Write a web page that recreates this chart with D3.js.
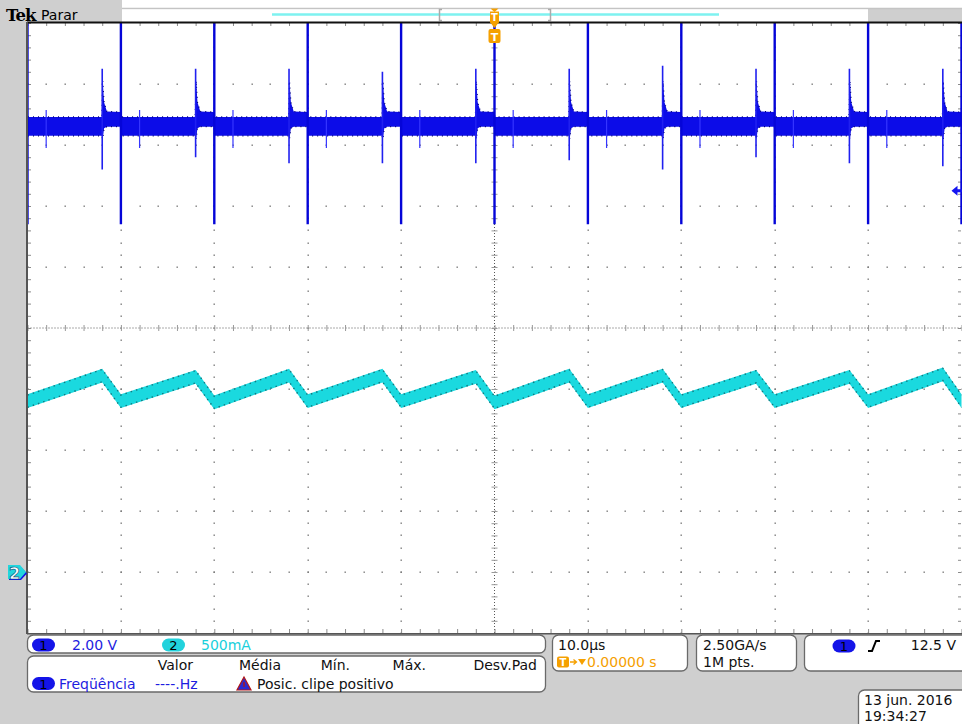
<!DOCTYPE html>
<html><head><meta charset="utf-8">
<script src="https://cdn.jsdelivr.net/npm/d3@7"></script>
<style>
body{margin:0;background:#cfcfcf;overflow:hidden}
svg{display:block}
</style>
</head><body>
<svg id="c" width="962" height="724" font-family="'DejaVu Sans',sans-serif"></svg>
<script>
// ---------------- DATA ----------------
// Time base: 10.0 µs/div, 10 divisions, trigger at 0
const timeDomain = [-50, 50];               // µs
// Channel 1: 2.00 V/div, ground marker at -4 div
const ch1Scale = 2.0, ch1GroundDiv = -4;
// Channel 2: 500 mA/div, ground marker at -4 div
const ch2Scale = 0.5, ch2GroundDiv = -4;
const triggerLevel = 12.5;                  // V (ch1, rising)

// Ch1 large switching spikes (clipped on top)
const bigSpikeTimes = [-50, -40, -30, -20, -10, 0, 10, 20, 30, 40, 50];
const bigSpikeHigh  = [18.5, 18.5, 18.5, 18.5, 18.5, 18.5, 18.5, 18.5, 18.5, 18.5, 18.5];
const bigSpikeLow   = [11.4, 11.4, 11.4, 11.4, 11.4, 11.4, 11.4, 11.4, 11.4, 11.4, 11.4];
// Ch1 smaller spikes 2 µs before each big spike
const smallSpikeTimes = [-42, -32, -22, -12, -2, 8, 18, 28, 38, 48];
const smallSpikeHigh  = [16.5, 16.5, 16.5, 16.4, 16.5, 16.5, 16.6, 16.5, 16.5, 16.5];
const smallSpikeLow   = [13.2, 13.6, 13.4, 13.4, 13.4, 13.5, 13.2, 13.6, 13.4, 13.3];
// Ch1 minor ringing spikes ~2 µs after each big spike
const minorSpikeTimes = [-48, -38, -28, -18, -8, 2, 12, 22, 32, 42];
const minorSpikeHigh  = [15.15, 15.15, 15.15, 15.15, 15.15, 15.15, 15.15, 15.15, 15.15, 15.15];
const minorSpikeLow   = [13.9, 13.9, 13.9, 13.9, 13.9, 13.9, 13.9, 13.9, 13.9, 13.9];
// Ch1 noise envelope over one cycle (µs after each big spike, volts)
const envTau    = [0.05, 7.95, 8.05, 8.2, 8.5, 9.95];
const envTop    = [14.92, 14.92, 16.1, 15.4, 15.1, 15.08];
const envBottom = [14.3, 14.3, 14.2, 14.55, 14.6, 14.6];

// Ch2 triangular current (A)
const ch2TroughTimes  = [-50, -40, -30, -20, -10, 0, 10, 20, 30, 40, 50];
const ch2TroughValues = [1.40, 1.40, 1.39, 1.40, 1.40, 1.39, 1.40, 1.40, 1.40, 1.40, 1.40];
const ch2PeakTimes    = [-42, -32, -22, -12, -2, 8, 18, 28, 38, 48];
const ch2PeakValues   = [1.61, 1.60, 1.61, 1.61, 1.60, 1.61, 1.61, 1.60, 1.60, 1.62];
const ch2NoiseHalf = 0.056;

// Readouts
const readout = {
  ch1: "2.00 V", ch2: "500mA",
  measHeaders: ["Valor", "Média", "Mín.", "Máx.", "Desv.Pad"],
  measName: "Freqüência", measValue: "----.Hz", clipMsg: "Posic. clipe positivo",
  timeDiv: "10.0µs", trigPos: "0.00000 s",
  sampleRate: "2.50GA/s", recLen: "1M pts.",
  trigLevel: "12.5 V", date: "13 jun. 2016", time: "19:34:27"
};

// ---------------- DRAWING ----------------
const svg = d3.select("#c");
const X0 = 27.5, X1 = 961.5, Y0 = 23, Y1 = 633;
const x = d3.scaleLinear().domain(timeDomain).range([X0, X1]);
const yDiv = d3.scaleLinear().domain([-5, 5]).range([Y1, Y0]);
const y1 = d3.scaleLinear().domain([(-5 - ch1GroundDiv) * ch1Scale, (5 - ch1GroundDiv) * ch1Scale]).range([Y1, Y0]);
const y2 = d3.scaleLinear().domain([(-5 - ch2GroundDiv) * ch2Scale, (5 - ch2GroundDiv) * ch2Scale]).range([Y1, Y0]);

// background areas
svg.append("rect").attr("width", 962).attr("height", 724).attr("fill", "#cfcfcf");
svg.append("rect").attr("x", 122).attr("y", 0).attr("width", 840).attr("height", 8).attr("fill", "#ffffff");
svg.append("line").attr("x1", 122).attr("x2", 962).attr("y1", 8.5).attr("y2", 8.5).attr("stroke", "#c4c4c4").attr("stroke-width", 1.5);
svg.append("rect").attr("x", 122).attr("y", 9.2).attr("width", 746).attr("height", 13).attr("fill", "#ffffff");
svg.append("rect").attr("x", 27).attr("y", 22).attr("width", 935).attr("height", 612).attr("fill", "#ffffff");

// header
svg.append("text").attr("x", 6).attr("y", 20.5).style("font-family", "'DejaVu Serif','Liberation Serif',serif").attr("font-weight", "bold")
  .attr("font-size", 16.5).attr("letter-spacing", -1).attr("fill", "#000").text("Tek");
svg.append("text").attr("x", 41).attr("y", 19.5).attr("font-size", 14).attr("fill", "#000").text("Parar");
// record view bar
svg.append("line").attr("x1", 272).attr("x2", 719).attr("y1", 14.5).attr("y2", 14.5).attr("stroke", "#7ef2f0").attr("stroke-width", 2.5);
svg.append("path").attr("d", "M442,9.5 H439.5 V20.5 H442").attr("fill", "none").attr("stroke", "#aaa").attr("stroke-width", 1.5);
svg.append("path").attr("d", "M548,9.5 H550.5 V20.5 H548").attr("fill", "none").attr("stroke", "#aaa").attr("stroke-width", 1.5);

const gPlot = svg.append("g");
svg.append("defs").append("clipPath").attr("id", "clip").append("rect")
  .attr("x", 27.5).attr("y", Y0).attr("width", 934.5).attr("height", Y1 - Y0);

// grid dots: along major rows at minor x, along major columns at minor y
const minorT = d3.range(-50, 50.01, 2);
const minorDiv = d3.range(-5, 5.001, 0.2);
const majorRows = d3.range(-4, 4.001, 1).filter(d => d !== 0);
const majorCols = d3.range(-40, 40.01, 10).filter(d => d !== 0);
const dots = [];
majorRows.forEach(r => minorT.forEach(t => dots.push([x(t), yDiv(r)])));
majorCols.forEach(c => minorDiv.forEach(d => dots.push([x(c), yDiv(d)])));
gPlot.append("g").selectAll("rect").data(dots).join("rect")
  .attr("x", d => Math.round(d[0]) - 0.5).attr("y", d => Math.round(d[1]) - 0.5)
  .attr("width", 1.4).attr("height", 1.4).attr("fill", "#7a7a7a");

// center crosshair (dotted) with ticks
gPlot.append("line").attr("x1", X0).attr("x2", X1).attr("y1", yDiv(0)).attr("y2", yDiv(0))
  .attr("stroke", "#555").attr("stroke-width", 1).attr("stroke-dasharray", "1,2");
gPlot.append("line").attr("x1", x(0)).attr("x2", x(0)).attr("y1", Y0).attr("y2", Y1)
  .attr("stroke", "#555").attr("stroke-width", 1).attr("stroke-dasharray", "1,2");
const axCH = d3.axisBottom(x).tickValues(minorT).tickSizeInner(6).tickSizeOuter(0).tickFormat("");
const gCH = gPlot.append("g").attr("transform", `translate(0,${yDiv(0) - 3})`).call(axCH);
const axCV = d3.axisRight(yDiv).tickValues(minorDiv).tickSizeInner(6).tickSizeOuter(0).tickFormat("");
const gCV = gPlot.append("g").attr("transform", `translate(${x(0) - 3},0)`).call(axCV);
[gCH, gCV].forEach(g => { g.select(".domain").remove(); g.selectAll("line").attr("stroke", "#999"); });

// edge ticks
function edge(axis, tx, ty) {
  const g = gPlot.append("g").attr("transform", `translate(${tx},${ty})`).call(axis);
  g.select(".domain").remove();
  g.selectAll("line").attr("stroke", "#8a8a8a");
}
edge(d3.axisBottom(x).tickValues(minorT).tickSize(3).tickFormat(""), 0, Y0);
edge(d3.axisTop(x).tickValues(minorT).tickSize(4).tickFormat(""), 0, Y1);
edge(d3.axisRight(yDiv).tickValues(minorDiv).tickSize(3).tickFormat(""), 28, 0);
edge(d3.axisLeft(yDiv).tickValues(minorDiv).tickSize(3).tickFormat(""), 961, 0);

// traces
const gTr = gPlot.append("g").attr("clip-path", "url(#clip)");

// ch2 band
const ch2Pts = [];
ch2TroughTimes.forEach((t, i) => ch2Pts.push({ t, v: ch2TroughValues[i] }));
ch2PeakTimes.forEach((t, i) => ch2Pts.push({ t, v: ch2PeakValues[i] }));
ch2Pts.sort((a, b) => a.t - b.t);
gTr.append("path").datum(ch2Pts)
  .attr("d", d3.area().x(d => x(d.t)).y0(d => y2(d.v - ch2NoiseHalf)).y1(d => y2(d.v + ch2NoiseHalf)))
  .attr("fill", "#1ad9df");
[1, -1].forEach(s => {
  gTr.append("path").datum(ch2Pts)
    .attr("d", d3.line().x(d => x(d.t)).y(d => y2(d.v + s * (ch2NoiseHalf - 0.006))))
    .attr("fill", "none").attr("stroke", "#127a80").attr("stroke-width", 1.4).attr("stroke-dasharray", "1.5,4");
});

// ch1 band
const ch1Pts = [];
bigSpikeTimes.forEach(T => envTau.forEach((tau, i) => ch1Pts.push({ t: T + tau, hi: envTop[i], lo: envBottom[i] })));
gTr.append("path").datum(ch1Pts)
  .attr("d", d3.area().x(d => x(d.t)).y0(d => y1(d.lo)).y1(d => y1(d.hi)))
  .attr("fill", "#0c0ce8");
["hi", "lo"].forEach(k => {
  gTr.append("path").datum(ch1Pts)
    .attr("d", d3.line().x(d => x(d.t)).y(d => y1(d[k])))
    .attr("fill", "none").attr("stroke", "#000070").attr("stroke-width", 1.2).attr("stroke-dasharray", "1,4");
});
function spikes(times, hi, lo, w, col) {
  gTr.append("g").selectAll("line").data(times).join("line")
    .attr("x1", d => x(d)).attr("x2", d => x(d))
    .attr("y1", (d, i) => y1(hi[i])).attr("y2", (d, i) => y1(lo[i]))
    .attr("stroke", col).attr("stroke-width", w);
}
spikes(minorSpikeTimes, minorSpikeHigh, minorSpikeLow, 1.2, "#3535ff");
spikes(smallSpikeTimes, smallSpikeHigh, smallSpikeLow, 1.6, "#2020f0");
spikes(bigSpikeTimes, bigSpikeHigh, bigSpikeLow, 2.4, "#0505d8");

// borders
svg.append("line").attr("x1", 27).attr("x2", 962).attr("y1", 22.5).attr("y2", 22.5).attr("stroke", "#111").attr("stroke-width", 2);
svg.append("line").attr("x1", 27).attr("x2", 27).attr("y1", 22).attr("y2", 634).attr("stroke", "#555").attr("stroke-width", 2);
svg.append("line").attr("x1", 27).attr("x2", 962).attr("y1", 633.7).attr("y2", 633.7).attr("stroke", "#555").attr("stroke-width", 1.4);

// trigger position markers (orange)
const tx = x(0), orange = "#f5a000";
svg.append("path").attr("d", `M${tx-4},8.5 L${tx+4},8.5 L${tx},12 Z`).attr("fill", orange);
svg.append("rect").attr("x", tx - 4.5).attr("y", 11.5).attr("width", 9).attr("height", 11).attr("fill", orange);
svg.append("path").attr("d", `M${tx-5},21.5 L${tx+5},21.5 L${tx},28 Z`).attr("fill", orange);
svg.append("text").attr("x", tx).attr("y", 21).attr("text-anchor", "middle").attr("font-size", 10).attr("font-weight", "bold").attr("fill", "#fff").text("T");
svg.append("rect").attr("x", tx - 6).attr("y", 29).attr("width", 12).attr("height", 14).attr("rx", 2).attr("fill", orange);
svg.append("text").attr("x", tx).attr("y", 40.5).attr("text-anchor", "middle").attr("font-size", 11).attr("font-weight", "bold").attr("fill", "#fff").text("T");

// trigger level arrow (right)
const ty = y1(triggerLevel);
svg.append("path").attr("d", `M951.5,${ty} L957.5,${ty-5} L957.5,${ty-1.5} L962,${ty-1.5} L962,${ty+1.5} L957.5,${ty+1.5} L957.5,${ty+5} Z`).attr("fill", "#1515f0");

// channel ground markers (left)
const gy1 = yDiv(ch1GroundDiv), gy2 = yDiv(ch2GroundDiv);
svg.append("path").attr("d", `M9,${gy1-5} L21,${gy1-5} L27,${gy1+1.5} L21,${gy1+8} L9,${gy1+8} Z`).attr("fill", "#1515e0");
svg.append("path").attr("d", `M8,${gy2-7} L20,${gy2-7} L26,${gy2} L20,${gy2+7} L8,${gy2+7} Z`).attr("fill", "#22d5dd");
svg.append("text").attr("x", 14.5).attr("y", gy2 + 6.5).attr("text-anchor", "middle").attr("font-size", 16).attr("font-weight", "bold")
  .attr("fill", "#fff").attr("stroke", "#0a5a80").attr("stroke-width", 0.7).text("2");

// ---------------- bottom readouts ----------------
function panel(px, py, w, h) {
  svg.append("rect").attr("x", px).attr("y", py).attr("width", w).attr("height", h).attr("rx", 6)
    .attr("fill", "#fff").attr("stroke", "#6a6a6a").attr("stroke-width", 1.3);
}
function txt(tx_, ty_, s, col, anchor, size) {
  return svg.append("text").attr("x", tx_).attr("y", ty_).attr("font-size", size || 14).attr("fill", col || "#111")
    .attr("text-anchor", anchor || "start").text(s);
}
function pill(cx, cy, col, label) {
  svg.append("rect").attr("x", cx - 11.5).attr("y", cy - 6.5).attr("width", 23).attr("height", 13).attr("rx", 6.5).attr("fill", col);
  txt(cx, cy + 5, label, "#000", "middle", 13);
}
const blueT = "#1d1de0", cyanT = "#19d0dc";

panel(27.5, 635, 518, 18);
pill(43.5, 645, "#1414e8", "1");
txt(72, 650, readout.ch1, blueT);
pill(173.5, 645, "#22d2dc", "2");
txt(201, 650, readout.ch2, cyanT);

panel(27.5, 656, 518, 36);
const hdrX = [193, 281, 350, 426, 537];
readout.measHeaders.forEach((h, i) => txt(hdrX[i], 670, h, "#111", "end"));
pill(43.5, 683.5, "#1414e8", "1");
txt(59, 689, readout.measName, blueT);
txt(155, 689, readout.measValue, blueT);
svg.append("path").attr("d", "M244,677 L251,690 L237,690 Z").attr("fill", "#2a2ad0").attr("stroke", "#b01818").attr("stroke-width", 1.2);
svg.append("rect").attr("x", 243.3).attr("y", 682).attr("width", 1.4).attr("height", 5).attr("fill", "#b01818");
txt(257, 689, readout.clipMsg, "#111");

panel(552.5, 635, 135, 36);
txt(558, 650, readout.timeDiv, "#111");
svg.append("rect").attr("x", 557).attr("y", 656.5).attr("width", 12).attr("height", 11).attr("rx", 2).attr("fill", orange);
txt(563, 666, "T", "#fff", "middle", 10).attr("font-weight", "bold");
svg.append("path").attr("d", "M570,662 L576,662 M573.5,659.5 L576.5,662 L573.5,664.5").attr("stroke", orange).attr("stroke-width", 1.3).attr("fill", "none");
svg.append("path").attr("d", "M578,659 L586,659 L582,665 Z").attr("fill", orange);
txt(587, 667, readout.trigPos, orange);

panel(696.5, 635, 100, 36);
txt(703, 650, readout.sampleRate, "#111");
txt(703, 667, readout.recLen, "#111");

panel(804.5, 635, 165, 36);
pill(844, 646, "#1414e8", "1");
svg.append("path").attr("d", "M868,651 L872,651 L876,641 L880,641").attr("stroke", "#000").attr("stroke-width", 2).attr("fill", "none");
txt(956, 650, readout.trigLevel, "#111", "end");

panel(858.5, 690, 110, 40);
txt(864, 705, readout.date, "#111");
txt(864, 721, readout.time, "#111");
</script>
</body></html>
